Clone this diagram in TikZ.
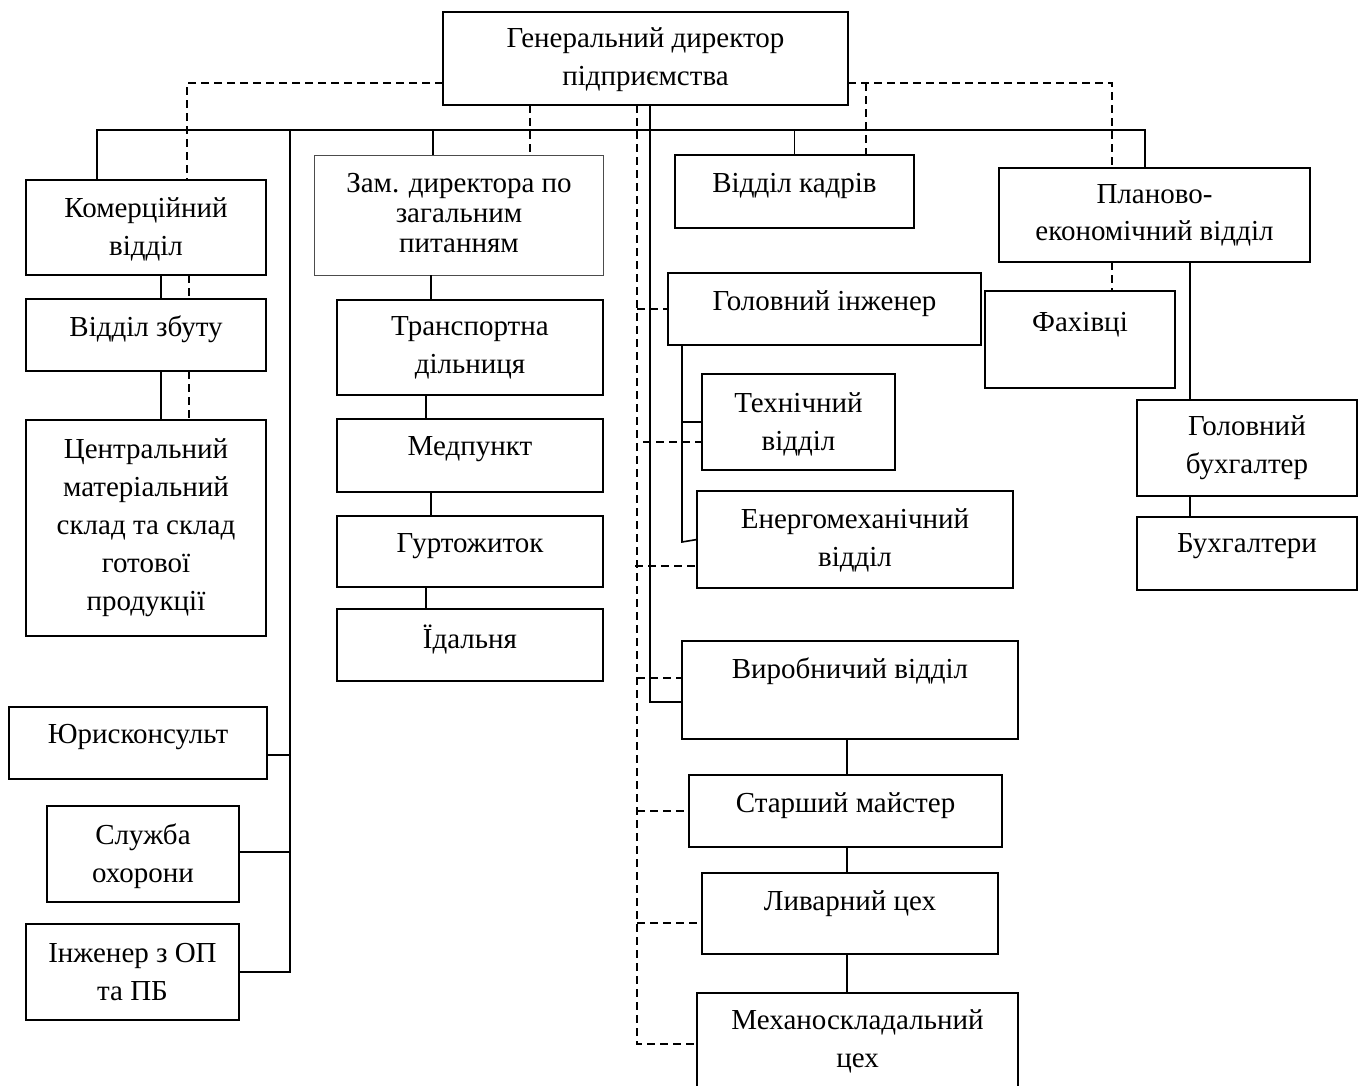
\documentclass[tikz,border=0pt]{standalone}
\usepackage{fontspec}
\setmainfont{Liberation Serif}
\tikzset{
  boxst/.style={draw, line width=1.8pt, inner sep=0pt, outer sep=0pt},
  thinbox/.style={draw=black!70, line width=1.0pt, inner sep=0pt, outer sep=0pt},
  txt/.style={align=center, inner sep=0pt, font=\fontsize{29}{38}\selectfont},
  con/.style={line width=1.6pt},
  dsh/.style={line width=1.5pt, dash pattern=on 8pt off 5pt}
}
\newcommand\obox[7]{%
  \node[boxst, minimum width={(#4-#2)*1pt}, minimum height={(#5-#3)*1pt}] (#1) at ({(#2+#4)/2},{(#3+#5)/2}) {};
  \node[txt] (#1t) at ({(#2+#4)/2},#6) {#7};}
\begin{document}
\begin{tikzpicture}[x=1pt,y=-1pt]
\useasboundingbox (0,0) rectangle (1359,1085);
\clip (0,0) rectangle (1359,1085);

% boxes
\obox{gd}{443}{12}{848}{105}{60}{Генеральний директор\\підприємства}
\obox{kom}{26}{180}{266}{275}{229.5}{Комерційний\\відділ}
\node[thinbox, minimum width=289pt, minimum height=120pt] (zam) at (458.5,215) {};
\node[txt, font=\fontsize{29}{30}\selectfont] (zamt) at (459,213.5) {Зам. директора по\\загальним\\питанням};
\obox{kad}{675}{155}{914}{228}{185.5}{Відділ кадрів}
\node[boxst, minimum width=311pt, minimum height=94pt] (plan) at (1154.5,215) {};
\node[txt, font=\fontsize{29}{37}\selectfont] (plant) at (1154.5,215.5) {Планово-\\економічний відділ};
\obox{fakh}{985}{291}{1175}{388}{324.5}{Фахівці}
\obox{gb}{1137}{400}{1357}{496}{447.5}{Головний\\бухгалтер}
\obox{bu}{1137}{517}{1357}{590}{546.5}{Бухгалтери}
\obox{zbut}{26}{299}{266}{371}{329.5}{Відділ збуту}
\obox{cen}{26}{420}{266}{636}{528}{Центральний\\матеріальний\\склад та склад\\готової\\продукції}
\obox{yur}{9}{707}{267}{779}{737.5}{Юрисконсульт}
\obox{sl}{47}{806}{239}{902}{856}{Служба\\охорони}
\obox{inz}{26}{924}{239}{1020}{972.5}{Інженер з ОП\\та ПБ}
\obox{tran}{337}{300}{603}{395}{347.5}{Транспортна\\дільниця}
\obox{med}{337}{419}{603}{492}{449.5}{Медпункт}
\obox{gur}{337}{516}{603}{587}{546.5}{Гуртожиток}
\obox{ida}{337}{609}{603}{681}{639.5}{Їдальня}
\obox{hi}{668}{273}{981}{345}{303.5}{Головний інженер}
\obox{tech}{702}{374}{895}{470}{424}{Технічний\\відділ}
\obox{en}{697}{491}{1013}{588}{540.5}{Енергомеханічний\\відділ}
\obox{vyr}{682}{641}{1018}{739}{671.5}{Виробничий відділ}
\obox{star}{689}{775}{1002}{847}{805.5}{Старший майстер}
\obox{liv}{702}{873}{998}{954}{903.5}{Ливарний цех}
\obox{mex}{697}{993}{1018}{1100}{1041.5}{Механоскладальний\\цех}

% helper coordinates
\coordinate (busL) at (97,130);
\coordinate (busR) at (1145,130);
\coordinate (vyrJ) at (650,702);
\coordinate (xRail) at (290,0);
\coordinate (xZam) at (433,0);
\coordinate (xKom) at (161,0);
\coordinate (xT1) at (431,0);
\coordinate (xT2) at (426,0);
\coordinate (hiJ) at (682,542);
\coordinate (xBuh) at (1190,0);
\coordinate (xVyr) at (847,0);
\coordinate (jY) at (290,755);
\coordinate (jS) at (290,852);

% solid connectors
\draw[con] (busL |- kom.north) -- (busL) -- (busR) -- (busR |- plan.north);
\draw[con] (gd.south -| vyrJ) -- (vyrJ) -- (vyrJ -| vyr.west);
\draw[con] (xRail |- busL) -- (xRail |- inz.east) -- (inz.east);
\draw[con] (jY) -- (jY -| yur.east);
\draw[con] (jS) -- (jS -| sl.east);
\draw[con] (xZam |- busL) -- (xZam |- zam.north);
\draw[con] (kad.north |- busL) -- (kad.north);
\draw[con] (kom.south -| xKom) -- (zbut.north -| xKom);
\draw[con] (zbut.south -| xKom) -- (cen.north -| xKom);
\draw[con] (zam.south -| xT1) -- (tran.north -| xT1);
\draw[con] (tran.south -| xT2) -- (med.north -| xT2);
\draw[con] (med.south -| xT1) -- (gur.north -| xT1);
\draw[con] (gur.south -| xT2) -- (ida.north -| xT2);
\draw[con] (hi.south -| hiJ) -- (hiJ) -- (en.west);
\draw[con] (tech.west -| hiJ) -- (tech.west);
\draw[con] (plan.south -| xBuh) -- (gb.north -| xBuh);
\draw[con] (gb.south -| xBuh) -- (bu.north -| xBuh);
\draw[con] (vyr.south -| xVyr) -- (star.north -| xVyr);
\draw[con] (star.south -| xVyr) -- (liv.north -| xVyr);
\draw[con] (liv.south -| xVyr) -- (mex.north -| xVyr);

% dashed connectors
\coordinate (dL) at (187,83);
\coordinate (xDL) at (189,0);
\coordinate (dR) at (1112,83);
\coordinate (dK) at (866,83);
\coordinate (xDZ) at (530,0);
\coordinate (dV) at (637,1044);
\coordinate (dT) at (643,442);
\coordinate (dE) at (635,566);
\coordinate (dY) at (637,678);
\coordinate (dLv) at (637,923);

\draw[dsh] (dL -| gd.west) -- (dL) -- (dL |- kom.north);
\draw[dsh] (kom.south -| xDL) -- (zbut.north -| xDL);
\draw[dsh] (zbut.south -| xDL) -- (cen.north -| xDL);
\draw[dsh] (dR -| gd.east) -- (dR) -- (dR |- plan.north);
\draw[dsh] (dK) -- (dK |- kad.north);
\draw[dsh] (plan.south -| dR) -- (fakh.north -| dR);
\draw[dsh] (gd.south -| xDZ) -- (xDZ |- zam.north);
\draw[dsh] (gd.south -| dV) -- (dV) -- (dV -| mex.west);
\draw[dsh] (dV |- hi.west) -- (hi.west);
\draw[dsh] (dT) -- (dT -| tech.west);
\draw[dsh] (dE) -- (dE -| en.west);
\draw[dsh] (dY) -- (dY -| vyr.west);
\draw[dsh] (dV |- star.west) -- (star.west);
\draw[dsh] (dLv) -- (dLv -| liv.west);
\end{tikzpicture}
\end{document}
